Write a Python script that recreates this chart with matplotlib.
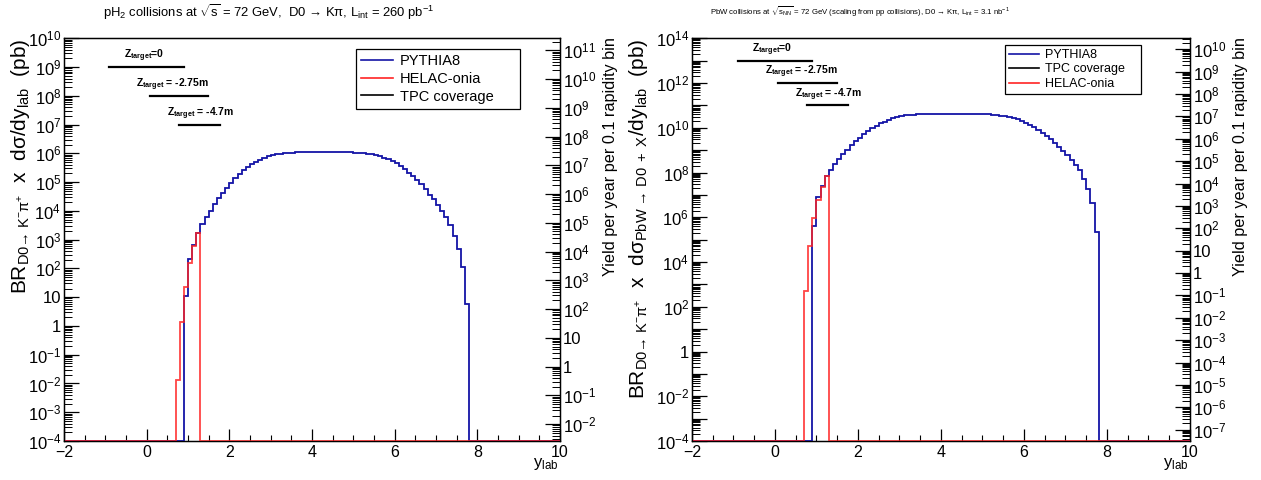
import numpy as np
import matplotlib
matplotlib.use('Agg')
import matplotlib.pyplot as plt
from matplotlib.ticker import LogLocator, FuncFormatter, MultipleLocator, NullFormatter
from matplotlib.lines import Line2D

plt.rcParams['font.family'] = ['Liberation Sans', 'DejaVu Sans']
plt.rcParams['mathtext.fontset'] = 'custom'
plt.rcParams['mathtext.rm'] = 'Liberation Sans'
plt.rcParams['mathtext.it'] = 'Liberation Sans:italic'
plt.rcParams['mathtext.bf'] = 'Liberation Sans:bold'
plt.rcParams['mathtext.sf'] = 'Liberation Sans'
plt.rcParams['mathtext.default'] = 'regular'

# ---------------- data ----------------
bin_lo, bin_hi, bin_width = -2.0, 10.0, 0.1
pythia_start = 0.9   # lower edge of first filled PYTHIA8 bin
helac_start = 0.7    # lower edge of first filled HELAC-onia bin

# pH2, BR x dsigma/dy_lab (pb), bins 0.9 ... 7.7
pythia_ph2 = [11, 2.2e2, 6.3e2, 1.74e3, 3.47e3, 6.0e3, 1.02e4, 1.72e4, 2.75e4, 4.2e4,
              6.4e4, 9.4e4, 1.38e5, 1.95e5, 2.6e5, 3.3e5, 4.17e5, 5.0e5, 5.95e5, 6.9e5,
              7.85e5, 8.6e5, 9.3e5, 9.8e5, 1.02e6, 1.05e6, 1.07e6, 1.08e6, 1.10e6, 1.11e6,
              1.11e6, 1.12e6, 1.12e6, 1.12e6, 1.12e6, 1.12e6, 1.11e6, 1.11e6, 1.10e6, 1.09e6,
              1.08e6, 1.06e6, 1.04e6, 1.0e6, 9.65e5, 9.2e5, 8.6e5, 8.0e5, 7.15e5, 6.25e5,
              5.37e5, 4.47e5, 3.63e5, 2.75e5, 2.09e5, 1.58e5, 1.15e5, 8.3e4, 5.75e4, 3.63e4,
              2.51e4, 1.62e4, 9.8e3, 5.9e3, 3.3e3, 1.33e3, 4.8e2, 1.1e2, 5.6]
# pH2 HELAC-onia, bins 0.7 ... 1.2
helac_ph2 = [1.3e-2, 1.4, 23, 1.5e2, 6.2e2, 1.74e3]

# PbW, bins 0.9 ... 7.7
pythia_pbw = [4.1e5, 8.3e6, 2.45e7, 6.8e7, 1.35e8, 2.34e8, 3.9e8, 6.5e8, 1.05e9, 1.62e9,
              2.45e9, 3.63e9, 5.3e9, 7.4e9, 9.9e9, 1.26e10, 1.58e10, 1.91e10, 2.26e10, 2.63e10,
              2.99e10, 3.27e10, 3.55e10, 3.72e10, 3.89e10, 3.98e10, 4.07e10, 4.12e10, 4.17e10, 4.2e10,
              4.22e10, 4.25e10, 4.25e10, 4.25e10, 4.25e10, 4.25e10, 4.22e10, 4.2e10, 4.17e10, 4.12e10,
              4.07e10, 4.0e10, 3.93e10, 3.8e10, 3.67e10, 3.5e10, 3.27e10, 3.05e10, 2.72e10, 2.37e10,
              2.04e10, 1.7e10, 1.38e10, 1.05e10, 7.9e9, 6.0e9, 4.37e9, 3.16e9, 2.19e9, 1.38e9,
              9.5e8, 6.2e8, 3.7e8, 2.24e8, 1.26e8, 5.1e7, 1.82e7, 4.2e6, 2.1e5]
helac_pbw = [5.0e2, 5.4e4, 8.9e5, 5.9e6, 2.34e7, 6.8e7]

# TPC coverage for the three target positions
tpc_ranges = [(-0.9, 0.9), (0.08, 1.49), (0.78, 1.77)]
tpc_labels = [r'Z$_{\bf target}$=0', r'Z$_{\bf target}$ = -2.75m', r'Z$_{\bf target}$ = -4.7m']
tpc_label_x = [-0.55, -0.25, 0.48]
tpc_levels_ph2 = [1e9, 1e8, 1e7]
tpc_levels_pbw = [1e13, 1e12, 1e11]

# yield per year per 0.1 rapidity bin = sigma x L_int x 0.1
yield_factor_ph2 = 260 * 0.1      # 260 pb^-1
yield_factor_pbw = 3.1e-3 * 0.1   # 3.1 nb^-1

ylim_ph2 = (1e-4, 1e10)
ylim_pbw = (1e-4, 1e14)

BLUE = '#1414a6'
RED = '#ff2424'

W, H = 1261, 480


def full_hist(values, start):
    n = int(round((bin_hi - bin_lo) / bin_width))
    edges = np.linspace(bin_lo, bin_hi, n + 1)
    h = np.zeros(n)
    i0 = int(round((start - bin_lo) / bin_width))
    h[i0:i0 + len(values)] = values
    return edges, h


def log_label(every):
    def f(v, pos):
        if v <= 0:
            return ''
        e = int(round(np.log10(v)))
        if abs(v / 10.0 ** e - 1) > 1e-6:
            return ''
        if e % every != 0:
            return ''
        if e == 0:
            return '1'
        if e == 1:
            return '10'
        return r'$10^{%d}$' % e
    return FuncFormatter(f)


def style_log_axis(a, every):
    a.yaxis.set_major_locator(LogLocator(base=10, numticks=40))
    a.yaxis.set_minor_locator(LogLocator(base=10, subs=np.arange(2, 10), numticks=40))
    a.yaxis.set_major_formatter(log_label(every))
    a.yaxis.set_minor_formatter(NullFormatter())
    a.tick_params(axis='y', which='major', direction='in', length=11, width=0.9,
                  labelsize=12, pad=2)
    a.tick_params(axis='y', which='minor', direction='in', length=5.5, width=0.7)


def panel(ax, pythia, helac, levels, ylim, factor, every_main, order):
    ax.set_xlim(bin_lo, bin_hi)
    ax.set_yscale('log')
    ax.set_ylim(*ylim)
    e, hp = full_hist(pythia, pythia_start)
    e2, hh = full_hist(helac, helac_start)
    ax.stairs(np.maximum(hp, ylim[0]), e, color=BLUE, lw=1.3, baseline=None,
              clip_on=False, zorder=3)
    ax.stairs(np.maximum(hh, ylim[0]), e2, color=RED, lw=1.3, alpha=0.85,
              baseline=None, clip_on=False, zorder=4)
    for (x0, x1), lev, lab, lx in zip(tpc_ranges, levels, tpc_labels, tpc_label_x):
        ax.plot([x0, x1], [lev, lev], color='black', lw=1.6, zorder=5)
        ax.annotate(lab, xy=(lx, lev), xytext=(0, 8), textcoords='offset points',
                    ha='left', va='center', fontsize=7.5, fontweight='bold')
    ax.xaxis.set_major_locator(MultipleLocator(2))
    ax.xaxis.set_minor_locator(MultipleLocator(0.5))
    ax.tick_params(axis='x', which='major', direction='in', length=9, width=0.9,
                   labelsize=11.5, top=False, pad=3)
    ax.tick_params(axis='x', which='minor', direction='in', length=4.5, width=0.8, top=False)
    style_log_axis(ax, every_main)
    ax.tick_params(axis='y', which='both', right=False)
    for s in ax.spines.values():
        s.set_linewidth(1.0)

    a2 = ax.twinx()
    a2.set_yscale('log')
    a2.set_ylim(ylim[0] * factor, ylim[1] * factor)
    style_log_axis(a2, 1)
    a2.tick_params(axis='y', which='both', left=False, right=True)

    handles = {
        'PYTHIA8': Line2D([], [], color=BLUE, lw=1.2),
        'HELAC-onia': Line2D([], [], color=RED, lw=1.2),
        'TPC coverage': Line2D([], [], color='black', lw=1.2),
    }
    return [handles[k] for k in order], order


fig = plt.figure(figsize=(W / 100, H / 100), dpi=100)
axL = fig.add_axes([64 / W, 39 / H, 496 / W, 402.7 / H])
axR = fig.add_axes([691.9 / W, 39 / H, 498.1 / W, 402.7 / H])

hL, lL = panel(axL, pythia_ph2, helac_ph2, tpc_levels_ph2, ylim_ph2, yield_factor_ph2, 1,
               ['PYTHIA8', 'HELAC-onia', 'TPC coverage'])
hR, lR = panel(axR, pythia_pbw, helac_pbw, tpc_levels_pbw, ylim_pbw, yield_factor_pbw, 2,
               ['PYTHIA8', 'TPC coverage', 'HELAC-onia'])

legL = axL.legend(hL, lL, loc='upper left', bbox_to_anchor=(0.588, 0.973, 0.331, 0.0),
                  mode='expand', fontsize=10.5, frameon=True, fancybox=False,
                  edgecolor='black', framealpha=1, borderpad=0.35, labelspacing=0.25,
                  handlelength=2.2, handletextpad=0.5, borderaxespad=0)
legL.get_frame().set_linewidth(0.9)
legR = axR.legend(hR, lR, loc='upper left', bbox_to_anchor=(0.629, 0.983, 0.272, 0.0),
                  mode='expand', fontsize=9, frameon=True, fancybox=False,
                  edgecolor='black', framealpha=1, borderpad=0.3, labelspacing=0.2,
                  handlelength=2.4, handletextpad=0.5, borderaxespad=0)
legR.get_frame().set_linewidth(0.9)

# axis titles
ylab_L = r'BR$_{D0 → \ K^{-}π^{+}}$  x  dσ/dy$_{lab}$  (pb)'
ylab_R = r'BR$_{D0 → \ K^{-}π^{+}}$  x  dσ$_{PbW\ →\ D0\ +\ X}$/dy$_{lab}$  (pb)'
yield_lab = 'Yield per year per 0.1 rapidity bin'
fig.text(21 / W, 1 - 38 / H, ylab_L, rotation=90, ha='center', va='top', fontsize=15)
fig.text(610 / W, 1 - 37 / H, yield_lab, rotation=90, ha='center', va='top', fontsize=11.7)
fig.text(558 / W, 1 - 464 / H, r'y$_{lab}$', ha='right', va='center', fontsize=12)

fig.text(639 / W, 1 - 38 / H, ylab_R, rotation=90, ha='center', va='top', fontsize=15)
fig.text(1241 / W, 1 - 37 / H, yield_lab, rotation=90, ha='center', va='top', fontsize=11.7)
fig.text(1188 / W, 1 - 464 / H, r'y$_{lab}$', ha='right', va='center', fontsize=12)

title_L = r'pH$_{2}$ collisions at $\sqrt{s}$ = 72 GeV,  D0 → Kπ, L$_{int}$ = 260 pb$^{-1}$'
title_R = (r'PbW collisions at $\sqrt{s_{NN}}$ = 72 GeV (scaling from pp collisions), '
           r'D0 → Kπ, L$_{int}$ = 3.1 nb$^{-1}$')
fig.text(269 / W, 1 - 12 / H, title_L, ha='center', va='center', fontsize=9.4)
fig.text(860 / W, 1 - 12 / H, title_R, ha='center', va='center', fontsize=5.6)

fig.savefig('out.png', dpi=100)
